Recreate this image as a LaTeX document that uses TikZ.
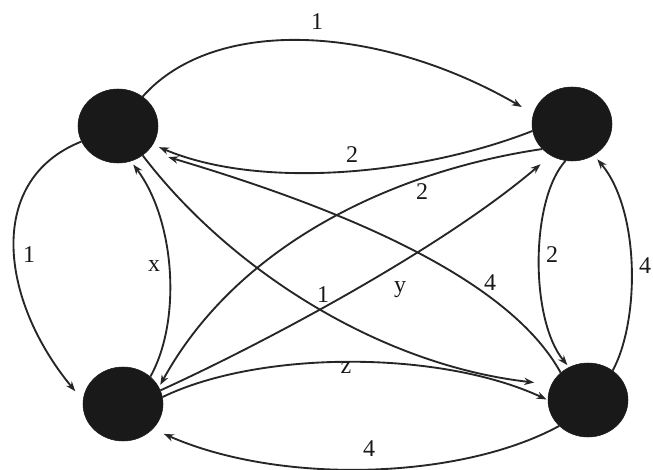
\documentclass[tikz,border=0pt]{standalone}
\usepackage{fontspec}
\setmainfont{Liberation Serif}
\usetikzlibrary{shapes.geometric,arrows.meta}
\begin{document}
\begin{tikzpicture}[x=0.75pt,y=-0.75pt,
  dot/.style={ellipse,fill=black!90,draw=black!90,minimum width=60pt,minimum height=55.5pt,inner sep=0pt},
  edge/.style={draw=black!85,line width=1.4pt,-{Stealth[length=7.5pt,width=5.5pt]}},
  lbl/.style={font=\fontsize{18}{20}\selectfont,text=black!90,inner sep=1pt}]
\useasboundingbox (0,0) rectangle (653,470);
\node[dot] (A) at (118,126) {};
\node[dot] (B) at (572,124) {};
\node[dot] (C) at (123,404) {};
\node[dot] (D) at (588,400) {};
% A -> B (1)
\draw[edge,shorten >=10pt] (A.50) .. controls (215,15) and (380,25) .. (B.165);
% B -> A (2)
\draw[edge,shorten >=5pt] (B.190) .. controls (420,175) and (260,190) .. (A.-28);
% B -> C (2)
\draw[edge,shorten >=2pt] (B.220) .. controls (400,170) and (240,240) .. (C.25);
% C -> B (y)
\draw[edge,shorten >=10pt] (C.20) .. controls (260,345) and (440,250) .. (B.236);
% C -> A (x)
\draw[edge,shorten >=3pt] (C.45) .. controls (182,320) and (175,220) .. (A.-70);
% A -> C (1)
\draw[edge,shorten >=9pt] (A.203) .. controls (-15,180) and (0,300) .. (C.175);
% A -> D (1)
\draw[edge,shorten >=13pt] (A.-50) .. controls (230,270) and (380,365) .. (D.157);
% D -> A (4)
\draw[edge,shorten >=16pt] (D.135) .. controls (515,290) and (380,220) .. (A.-40);
% B -> D (2)
\draw[edge,shorten >=2pt] (B.-100) .. controls (530,200) and (530,320) .. (D.120);
% D -> B (4)
\draw[edge,shorten >=4pt] (D.50) .. controls (640,320) and (640,210) .. (B.-55);
% C -> D (z)
\draw[edge,shorten >=1pt] (C.10) .. controls (260,350) and (440,350) .. (D.180);
% D -> C (4)
\draw[edge,shorten >=9pt] (D.222) .. controls (460,480) and (280,485) .. (C.-40);
% labels
\node[lbl] (l1) at (317,22) {1};
\node[lbl] (l2) at (352,155) {2};
\node[lbl] (l3) at (422,192) {2};
\node[lbl] (l4) at (29,255) {1};
\node[lbl] (l5) at (154,266) {x};
\node[lbl] (l6) at (323,295) {1};
\node[lbl] (l7) at (400,290) {y};
\node[lbl] (l8) at (490,283) {4};
\node[lbl] (l9) at (552,255) {2};
\node[lbl] (l10) at (645,266) {4};
\node[lbl] (l11) at (346,368) {z};
\node[lbl] (l12) at (369,449) {4};
\end{tikzpicture}
\end{document}
